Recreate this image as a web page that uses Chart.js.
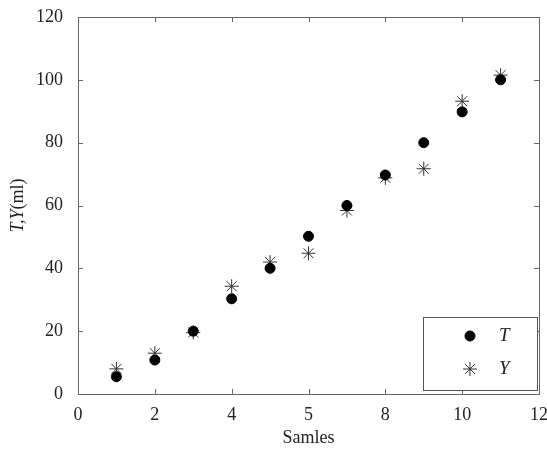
<!DOCTYPE html>
<html><head><meta charset="utf-8">
<script src="https://cdn.jsdelivr.net/npm/chart.js@4.4.1/dist/chart.umd.min.js"></script>
<style>html,body{margin:0;padding:0;background:#fff}#wrap{width:547px;height:449px}</style>
</head><body><div id="wrap"><canvas id="c" width="547" height="449"></canvas></div>
<script>
const samples = [1,2,3,4,5,6,7,8,9,10,11];
const tValues = [5.5,10.8,20,30.3,40,50.2,60,69.7,80,89.8,100];
const yValues = [8,13,19.6,34.3,42,44.8,58.4,68.8,71.7,93.2,101.5];
const xTickLabels = ['0','2','4','5','8','10','12'];
const yTickLabels = ['0','20','40','60','80','100','120'];
const seriesNames = ['T','Y'];
const yTitleParts = [['T,Y','italic'],['(ml)','normal']];

const serif = '"Liberation Serif","Times New Roman",serif';
const axisColor = '#666';

const frame = {
  id:'frame',
  afterDatasetsDraw(chart){
    const {ctx, chartArea:a, scales:{x,y}} = chart;
    ctx.save();
    ctx.strokeStyle = axisColor; ctx.lineWidth = 1;
    ctx.strokeRect(Math.round(a.left)+0.5, Math.round(a.top)+0.5, Math.round(a.right-a.left), Math.round(a.bottom-a.top));
    const L=5;
    ctx.beginPath();
    x.ticks.forEach(t=>{const px=Math.round(x.getPixelForValue(t.value))+0.5;
      ctx.moveTo(px,a.bottom);ctx.lineTo(px,a.bottom-L);ctx.moveTo(px,a.top);ctx.lineTo(px,a.top+L);});
    y.ticks.forEach(t=>{const py=Math.round(y.getPixelForValue(t.value))+0.5;
      ctx.moveTo(a.left,py);ctx.lineTo(a.left+L,py);ctx.moveTo(a.right,py);ctx.lineTo(a.right-L,py);});
    ctx.stroke();
    // legend box
    const bw=114,bh=73,br=a.right-2,bb=a.bottom-4,bl=br-bw,bt=bb-bh;
    ctx.fillStyle='#fff';ctx.fillRect(bl,bt,bw,bh);
    ctx.strokeStyle='#555';ctx.strokeRect(Math.round(bl)+0.5,Math.round(bt)+0.5,bw,bh);
    chart.data.datasets.forEach((ds,i)=>{
      const cy=bt+19+i*33, mx=bl+47;
      ctx.fillStyle=ds.pointBackgroundColor; ctx.strokeStyle=ds.pointBorderColor; ctx.lineWidth=ds.borderWidth;
      Chart.helpers.drawPoint(ctx,{pointStyle:ds.pointStyle,radius:ds.pointRadius,borderWidth:ds.borderWidth},mx,cy);
      ctx.fillStyle='#222';ctx.font='italic 19px '+serif;ctx.textBaseline='middle';ctx.textAlign='left';
      ctx.fillText(seriesNames[i],bl+76,cy);
    });
    // y title with mixed styles
    const cx=18, cyT=(a.top+a.bottom)/2;
    ctx.translate(cx,cyT);ctx.rotate(-Math.PI/2);
    let total=0;
    yTitleParts.forEach(p=>{ctx.font=p[1]+' 18px '+serif;total+=ctx.measureText(p[0]).width;});
    let xx=-total/2;
    ctx.fillStyle='#222';ctx.textBaseline='middle';ctx.textAlign='left';
    yTitleParts.forEach(p=>{ctx.font=p[1]+' 18px '+serif;ctx.fillText(p[0],xx,0);xx+=ctx.measureText(p[0]).width;});
    ctx.restore();
  }
};

new Chart(document.getElementById('c'),{
  type:'scatter',
  data:{datasets:[
    {label:seriesNames[0],data:samples.map((s,i)=>({x:s,y:tValues[i]})),pointStyle:'circle',pointRadius:5,
     backgroundColor:'#000',borderColor:'#000',pointBackgroundColor:'#000',pointBorderColor:'#000',borderWidth:1},
    {label:seriesNames[1],data:samples.map((s,i)=>({x:s,y:yValues[i]})),pointStyle:'star',pointRadius:7,
     backgroundColor:'#333',borderColor:'#333',pointBackgroundColor:'#333',pointBorderColor:'#333',borderWidth:1}
  ]},
  options:{
    responsive:false,animation:false,
    layout:{padding:{left:0,right:4,top:17,bottom:0}},
    plugins:{legend:{display:false},tooltip:{enabled:false}},
    scales:{
      x:{type:'linear',min:0,max:12,
        ticks:{stepSize:2,color:'#222',font:{family:serif,size:18},padding:2,
          callback:(v)=>xTickLabels[Math.round(v/2)]},
        grid:{display:false},border:{display:false},
        title:{display:true,text:'Samles',color:'#222',font:{family:serif,size:18},padding:{top:6,bottom:0}},
        afterFit:(s)=>{s.height=55;s.paddingLeft=0;s.paddingRight=0;}},
      y:{min:0,max:120,
        ticks:{stepSize:20,color:'#222',font:{family:serif,size:18},padding:7,
          callback:(v)=>yTickLabels[Math.round(v/20)]},
        grid:{display:false},border:{display:false},
        title:{display:false},
        afterFit:(s)=>{s.width=78;s.paddingTop=0;s.paddingBottom=0;}}
    }
  },
  plugins:[frame]
});
</script></body></html>
